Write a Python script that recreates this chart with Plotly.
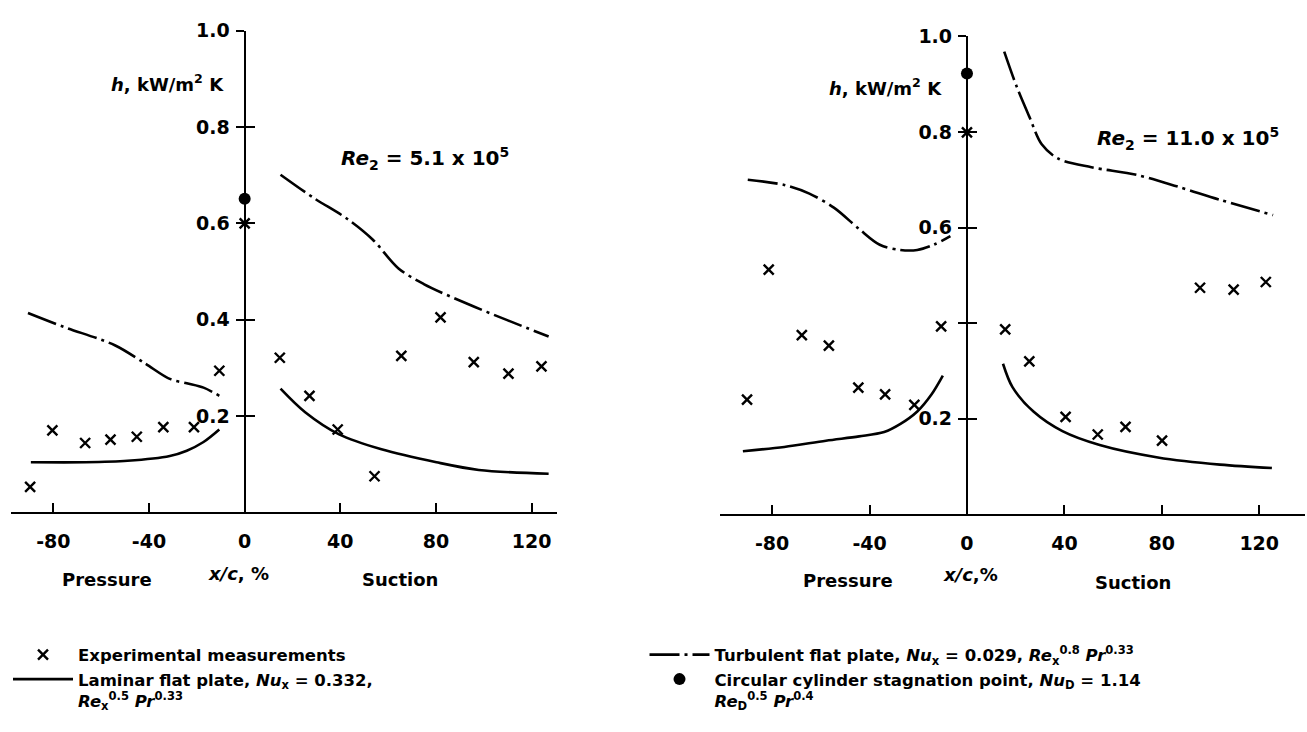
import plotly.graph_objects as go

# ---------------- data ----------------
# Left panel: Re2 = 5.1e5
exp_x_L = [-89.7, -80.4, -66.7, -56.1, -45.1, -34.0, -21.2, -10.6, 0, 14.7, 27.1, 38.9, 54.3, 65.5, 81.9, 95.8, 110.3, 124.1]
exp_h_L = [0.053, 0.170, 0.144, 0.151, 0.157, 0.177, 0.177, 0.294, 0.600, 0.321, 0.242, 0.172, 0.075, 0.325, 0.405, 0.312, 0.288, 0.303]
cyl_x_L = [0]
cyl_h_L = [0.651]
lamP_x_L = [-89.4, -66.7, -49.0, -31.3, -24.2, -17.2, -10.6]
lamP_h_L = [0.104, 0.104, 0.107, 0.117, 0.128, 0.146, 0.172]
lamS_x_L = [15.0, 25.3, 39.5, 57.2, 80.2, 97.9, 127.1]
lamS_h_L = [0.257, 0.208, 0.162, 0.131, 0.104, 0.088, 0.080]
turP_x_L = [-90.6, -75.6, -54.3, -41.9, -31.3, -24.2, -17.2, -10.6]
turP_h_L = [0.414, 0.385, 0.347, 0.310, 0.277, 0.268, 0.259, 0.242]
turS_x_L = [15.0, 28.8, 43.0, 53.6, 64.2, 74.9, 92.6, 110.3, 127.1]
turS_h_L = [0.701, 0.653, 0.609, 0.566, 0.507, 0.474, 0.434, 0.398, 0.365]

# Right panel: Re2 = 11.0e5
exp_x_R = [-90.3, -81.4, -67.8, -56.7, -44.6, -33.6, -21.6, -10.6, 0, 15.7, 25.6, 40.5, 53.7, 65.1, 80.1, 95.7, 109.5, 122.7]
exp_h_R = [0.240, 0.512, 0.375, 0.353, 0.265, 0.251, 0.229, 0.393, 0.799, 0.387, 0.320, 0.204, 0.167, 0.183, 0.154, 0.474, 0.470, 0.486]
cyl_x_R = [0]
cyl_h_R = [0.922]
lamP_x_R = [-92.0, -75.0, -57.9, -44.3, -34.0, -27.3, -20.4, -14.5, -9.9]
lamP_h_R = [0.132, 0.141, 0.154, 0.163, 0.172, 0.189, 0.215, 0.251, 0.290]
lamS_x_R = [14.8, 18.7, 27.3, 39.2, 54.5, 78.4, 103.9, 125.2]
lamS_h_R = [0.315, 0.266, 0.215, 0.174, 0.145, 0.119, 0.104, 0.097]
turP_x_R = [-90.0, -75.0, -64.7, -54.5, -44.3, -35.8, -27.3, -20.4, -13.6, -6.8]
turP_h_R = [0.700, 0.689, 0.671, 0.641, 0.597, 0.564, 0.553, 0.553, 0.564, 0.582]
turS_x_R = [15.3, 20.4, 25.6, 30.7, 37.5, 51.1, 69.8, 86.9, 103.9, 125.7]
turS_h_R = [0.968, 0.895, 0.832, 0.774, 0.744, 0.726, 0.710, 0.685, 0.658, 0.626]

x_ticks = [-80, -40, 0, 40, 80, 120]
y_ticks = [0.2, 0.4, 0.6, 0.8, 1.0]
y_labels_L = ["0.2", "0.4", "0.6", "0.8", "1.0"]
y_labels_R = ["0.2", "", "0.6", "0.8", "1.0"]

# ---------------- styling ----------------
W, H = 1307, 732
FONT = "DejaVu Sans"
LW = 2.6
TURB_DASH = "30px,5px,3px,5px"

xrange_L = [-97.7, 130.6]
xrange_R = [-101.4, 138.8]
xdom_L = [11 / W, 557 / W]
xdom_R = [720 / W, 1305 / W]
ydom_L = [1 - 509 / H, 1 - 20 / H]
ydom_R = [1 - 511 / H, 1 - 25.7 / H]


def zero_pos(dom, rng):
    return dom[0] + (0 - rng[0]) / (rng[1] - rng[0]) * (dom[1] - dom[0])


fig = go.Figure()


def add_panel(xa, ya, yb, ex, eh, cx, ch, lpx, lph, lsx, lsh, tpx, tph, tsx, tsh, legend):
    kw = dict(xaxis=xa, yaxis=ya, hoverinfo="skip")
    turb = dict(color="black", width=LW, dash=TURB_DASH, shape="spline", smoothing=0.9)
    lam = dict(color="black", width=LW, shape="spline", smoothing=0.9)
    fig.add_trace(go.Scatter(x=tpx, y=tph, mode="lines", line=turb,
                             name="Turbulent flat plate, <i>Nu</i><sub>x</sub> = 0.029, <i>Re</i><sub>x</sub><sup>0.8</sup> <i>Pr</i><sup>0.33</sup>",
                             legendgroup="turb", showlegend=legend, legendrank=2, **kw))
    fig.add_trace(go.Scatter(x=tsx, y=tsh, mode="lines", line=turb,
                             legendgroup="turb", showlegend=False, **kw))
    fig.add_trace(go.Scatter(x=lpx, y=lph, mode="lines", line=lam,
                             name="Laminar flat plate, <i>Nu</i><sub>x</sub> = 0.332,<br><i>Re</i><sub>x</sub><sup>0.5</sup> <i>Pr</i><sup>0.33</sup>",
                             legendgroup="lam", showlegend=legend, legendrank=3, **kw))
    fig.add_trace(go.Scatter(x=lsx, y=lsh, mode="lines", line=lam,
                             legendgroup="lam", showlegend=False, **kw))
    fig.add_trace(go.Scatter(x=ex, y=eh, mode="markers",
                             marker=dict(symbol="x-thin", size=10, color="black", line=dict(color="black", width=2.4)),
                             name="Experimental measurements", legendgroup="exp", showlegend=legend, legendrank=1, **kw))
    fig.add_trace(go.Scatter(x=cx, y=ch, mode="markers",
                             marker=dict(symbol="circle", size=12, color="black"),
                             name="Circular cylinder stagnation point, <i>Nu</i><sub>D</sub> = 1.14<br><i>Re</i><sub>D</sub><sup>0.5</sup> <i>Pr</i><sup>0.4</sup>",
                             legendgroup="cyl", showlegend=legend, legendrank=4, **kw))
    # empty trace to activate the overlay axis carrying the inner half of the y ticks
    fig.add_trace(go.Scatter(x=[], y=[], xaxis=xa, yaxis=yb, showlegend=False, hoverinfo="skip"))


add_panel("x", "y", "y3", exp_x_L, exp_h_L, cyl_x_L, cyl_h_L, lamP_x_L, lamP_h_L, lamS_x_L, lamS_h_L,
          turP_x_L, turP_h_L, turS_x_L, turS_h_L, True)
add_panel("x2", "y2", "y4", exp_x_R, exp_h_R, cyl_x_R, cyl_h_R, lamP_x_R, lamP_h_R, lamS_x_R, lamS_h_R,
          turP_x_R, turP_h_R, turS_x_R, turS_h_R, False)

tickfont = dict(family=FONT, size=19, color="black", weight="bold")


def xaxis(dom, rng, anchor):
    return dict(domain=dom, range=rng, anchor=anchor, showline=True, linecolor="black", linewidth=2.2,
                ticks="inside", ticklen=9, tickwidth=2, tickcolor="black", tickvals=x_ticks,
                ticktext=[str(v) for v in x_ticks], tickfont=tickfont, ticklabelstandoff=11,
                showgrid=False, zeroline=False, fixedrange=True)


def yaxis(dom, pos, labels):
    return dict(domain=dom, range=[0, 1.0], anchor="free", position=pos, showline=True, linecolor="black",
                linewidth=2.2, ticks="outside", ticklen=8, tickwidth=2, tickcolor="black", tickvals=y_ticks,
                ticktext=labels, tickfont=tickfont, ticklabelstandoff=2, showgrid=False, zeroline=False,
                fixedrange=True)


def yaxis_in(dom, pos, over):
    return dict(domain=dom, range=[0, 1.0], anchor="free", position=pos, overlaying=over, showline=False,
                ticks="inside", ticklen=9, tickwidth=2, tickcolor="black", tickvals=y_ticks,
                showticklabels=False, showgrid=False, zeroline=False, fixedrange=True)


posL = zero_pos(xdom_L, xrange_L)
posR = zero_pos(xdom_R, xrange_R)

fig.update_layout(
    width=W, height=H,
    margin=dict(l=0, r=0, t=0, b=0),
    paper_bgcolor="white", plot_bgcolor="white",
    font=dict(family=FONT, color="black"),
    xaxis=xaxis(xdom_L, xrange_L, "y"),
    xaxis2=xaxis(xdom_R, xrange_R, "y2"),
    yaxis=yaxis(ydom_L, posL, y_labels_L),
    yaxis2=yaxis(ydom_R, posR, y_labels_R),
    yaxis3=yaxis_in(ydom_L, posL, "y"),
    yaxis4=yaxis_in(ydom_R, posR, "y2"),
    legend=dict(orientation="h", x=8 / W, y=1 - 636 / H, xanchor="left", yanchor="top",
                entrywidth=0.487, entrywidthmode="fraction", itemwidth=60, valign="top",
                font=dict(family=FONT, size=16.5, color="black", weight="bold"),
                bgcolor="rgba(0,0,0,0)", traceorder="normal", tracegroupgap=4),
)

ann_font = dict(family=FONT, size=16, color="black", weight="bold")
anns = [
    # axis quantity label
    dict(x=167 / W, y=1 - 73 / H, text="<i>h</i>, kW/m<sup>2</sup> K", size=18),
    dict(x=885 / W, y=1 - 77 / H, text="<i>h</i>, kW/m<sup>2</sup> K", size=18),
    # Reynolds number
    dict(x=425 / W, y=1 - 150 / H, text="<i>Re</i><sub>2</sub> = 5.1 x 10<sup>5</sup>", size=20),
    dict(x=1188 / W, y=1 - 129 / H, text="<i>Re</i><sub>2</sub> = 11.0 x 10<sup>5</sup>", size=20),
    # under the x axis
    dict(x=107 / W, y=1 - 577 / H, text="Pressure", size=18),
    dict(x=238 / W, y=1 - 571 / H, text="<i>x/c</i>, %", size=18),
    dict(x=400 / W, y=1 - 577 / H, text="Suction", size=18),
    dict(x=848 / W, y=1 - 578 / H, text="Pressure", size=18),
    dict(x=970 / W, y=1 - 572 / H, text="<i>x/c</i>,%", size=18),
    dict(x=1133 / W, y=1 - 580 / H, text="Suction", size=18),
]
for a in anns:
    f = dict(ann_font)
    if "size" in a:
        f["size"] = a.pop("size")
    fig.add_annotation(xref="paper", yref="paper", xanchor="center", yanchor="middle", showarrow=False,
                       font=f, **a)

fig.write_html("out.html")
